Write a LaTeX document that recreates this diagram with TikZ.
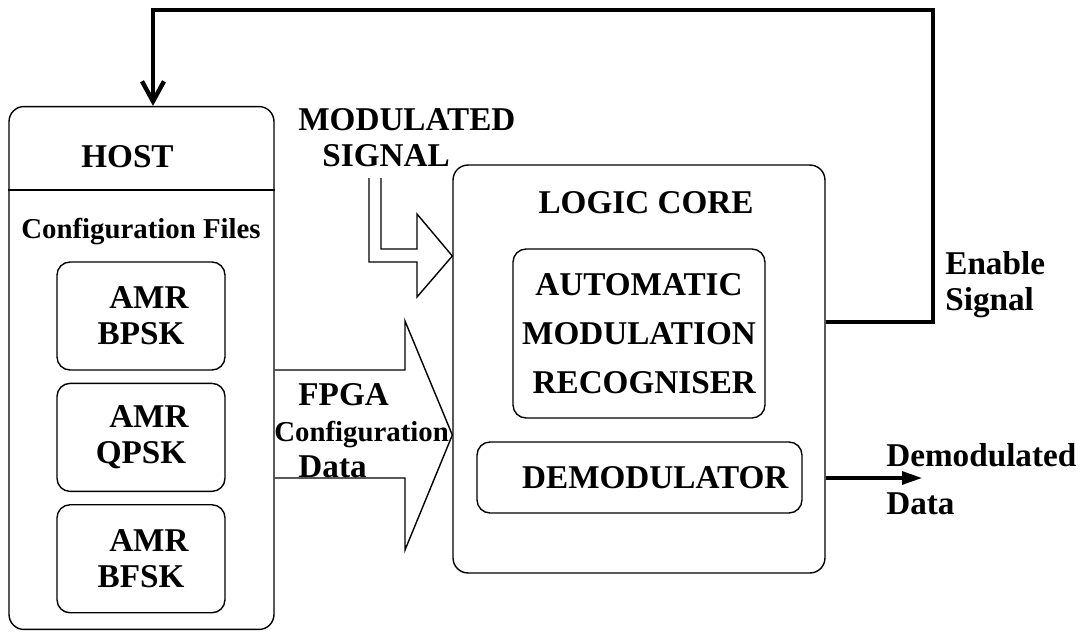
\documentclass[tikz,border=0pt]{standalone}
\usepackage{fontspec}
\setmainfont{Liberation Serif}
\usepackage{tikz}
\usetikzlibrary{arrows.meta, positioning}

\newcommand{\lblfont}{\fontsize{18.9}{20.5}\selectfont\bfseries}
\newcommand{\cfgfont}{\fontsize{16.4}{20}\selectfont\bfseries}

\begin{document}
\begin{tikzpicture}[
  x=0.02cm, y=-0.02cm,
  block/.style={draw, line width=0.8pt, rounded corners=3mm, inner sep=0pt},
  module/.style={draw, line width=0.8pt, rounded corners=2.6mm, inner sep=0pt,
    align=center, font=\lblfont},
  lbl/.style={align=left, font=\lblfont, inner sep=0pt},
  feedback/.style={line width=2.5pt, -{Straight Barb[length=4mm,width=4.4mm]}},
  dataout/.style={line width=1.8pt, -{Triangle[length=4mm,width=2.6mm]}},
  hollow/.style={line width=0.8pt, line join=miter}
]
\useasboundingbox (0,0) rectangle (1083,632);

% host side
\node[block, minimum width=5.3cm, minimum height=10.46cm] (host) at (141.5,368) {};
\node[font=\lblfont, inner sep=0pt, anchor=base] (hosttitle) at (127.5,167) {HOST};
\draw[line width=0.8pt] (host.west |- 0,190) -- (host.east |- 0,190);
\node[font=\cfgfont, inner sep=0pt, anchor=base] (files) at (141,238) {Configuration Files};

\node[module, minimum width=3.36cm, minimum height=2.16cm] (bpsk) at (141,316)
  {\hspace*{9pt}AMR\\BPSK};
\node[module, minimum width=3.36cm, minimum height=2.16cm, below=2.4mm of bpsk] (qpsk)
  {\hspace*{9pt}AMR\\QPSK};
\node[module, minimum width=3.36cm, minimum height=2.16cm, below=2.4mm of qpsk] (bfsk)
  {\hspace*{9pt}AMR\\BFSK};

% logic core
\node[block, minimum width=7.44cm, minimum height=8.16cm] (core) at (639,369) {};
\node[font=\lblfont, inner sep=0pt, anchor=base] (coretitle) at (646,213) {LOGIC CORE};
\node[module, minimum width=5.04cm, minimum height=3.38cm] (amr) at (639,333.5)
  {AUTOMATIC\\[7.5pt]MODULATION\\[7.5pt]\hspace*{6pt}RECOGNISER};
\node[module, minimum width=6.5cm, minimum height=1.42cm] (demod) at (639.5,477.5)
  {\hspace*{18pt}DEMODULATOR};

% labels
\node[lbl, anchor=north west] (modlbl) at (298,108) {MODULATED\\\hspace*{13.7pt}SIGNAL};
\node[lbl, anchor=north west] (fpgalbl) at (274,383)
  {\hspace*{13.7pt}FPGA\\{\cfgfont Configuration}\\\hspace*{13.7pt}Data};
\node[lbl, anchor=north west] (enlbl) at (945,251) {Enable\\Signal};
\node[lbl, anchor=north west] (outlbl) at (886,443) {Demodulated\\[7pt]Data};

% hollow arrows
\draw[hollow] (369,178) -- (369,262) -- (417,262) -- (417,297)
  -- (core.west |- 0,256) -- (417,214) -- (417,249) -- (381,249) -- (381,178);
\draw[hollow] (host.east |- 0,370) -- (405,370) -- (405,321)
  -- (core.west |- 0,435) -- (405,550) -- (405,478) -- (host.east |- 0,478);

% connectors
\draw[feedback] (core.east |- 0,322) -| (933,10) -| (host.north -| 153,0);
\coordinate (dout) at (922,478);
\draw[dataout] (core.east |- dout) -- (dout);
\end{tikzpicture}
\end{document}
